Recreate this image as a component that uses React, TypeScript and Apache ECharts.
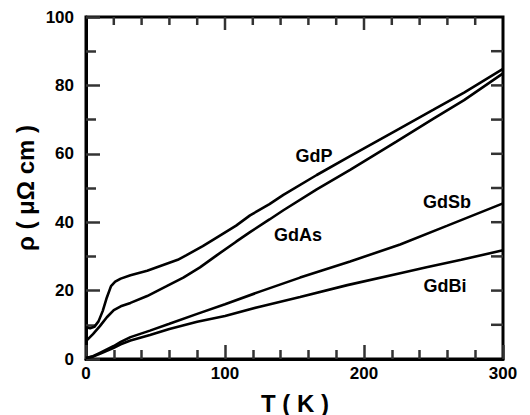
import React, { useEffect, useRef } from "react";
import * as echarts from "echarts";

// Temperature (K) and resistivity (µΩ cm) for each compound
const gdpT = [0, 3, 6, 9, 12, 15, 18, 21, 25, 32, 44, 55, 66, 72, 84, 94, 108, 118, 132, 142, 166, 190, 223, 250, 272, 300];
const gdpR = [9.3, 9.0, 9.4, 11.0, 14.0, 18.0, 21.3, 22.6, 23.5, 24.5, 25.8, 27.4, 29.0, 30.3, 33.0, 35.5, 39.0, 42.0, 45.3, 48.0, 53.8, 59.3, 66.8, 72.9, 77.9, 84.8];

const gdasT = [0, 5, 10, 15, 20, 25, 32, 44, 58, 70, 82, 94, 108, 118, 132, 142, 166, 190, 223, 250, 272, 300];
const gdasR = [5.2, 7.3, 9.6, 12.2, 14.3, 15.4, 16.4, 18.4, 21.3, 23.8, 26.8, 30.3, 34.3, 37.1, 40.8, 43.5, 49.6, 55.3, 63.5, 70.3, 75.7, 83.5];

const gdsbT = [0, 5, 10, 15, 20, 25, 32, 46, 60, 80, 100, 125, 154, 190, 226, 260, 300];
const gdsbR = [0.3, 0.8, 1.8, 2.8, 3.8, 5.0, 6.4, 8.3, 10.3, 13.2, 16.0, 19.7, 23.8, 28.5, 33.5, 39.0, 45.5];

const gdbiT = [0, 5, 10, 15, 20, 25, 32, 46, 60, 80, 100, 125, 154, 188, 226, 245, 270, 300];
const gdbiR = [0.3, 0.7, 1.5, 2.4, 3.3, 4.3, 5.4, 7.0, 8.8, 10.9, 12.6, 15.3, 18.1, 21.6, 25.1, 26.8, 29.0, 31.8];

const curveNames = ["GdP", "GdAs", "GdSb", "GdBi"];

// Tick values (top and right mirrored ticks)
const xMajorTicks = [100, 200];
const xMinorTicks = [20, 40, 60, 80, 120, 140, 160, 180, 220, 240, 260, 280];
const yRightTicks = [10, 20, 30, 40, 50, 60, 70, 80, 90];

const X_MIN = 0, X_MAX = 300, Y_MIN = 0, Y_MAX = 100;
const FONT = "'Liberation Sans', Arial, sans-serif";
const TICK_COLOR = "#333333";

function pairs(t: number[], r: number[]) {
  return t.map((v, i) => [v, r[i]]);
}

export default function App() {
  const ref = useRef<HTMLDivElement>(null);
  useEffect(() => {
    if (!ref.current) return;
    const chart = echarts.init(ref.current, undefined, { renderer: "svg" });

    const lineSeries = (name: string, data: number[][]) => ({
      name,
      type: "line",
      data,
      showSymbol: false,
      smooth: false,
      lineStyle: { color: "#000", width: 2.6 },
    });

    const topTicks = (vals: number[], len: number) => ({
      type: "custom",
      coordinateSystem: "cartesian2d",
      silent: true,
      clip: false,
      data: vals.map((v) => [v, Y_MAX]),
      encode: { x: 0, y: 1 },
      renderItem: (_p: any, api: any) => {
        const t = api.coord([api.value(0), Y_MAX]);
        return {
          type: "line",
          shape: { x1: t[0], y1: t[1], x2: t[0], y2: t[1] + len },
          style: { stroke: TICK_COLOR, lineWidth: 2.5 },
        };
      },
    });

    const rightTicks = (vals: number[], len: number) => ({
      type: "custom",
      coordinateSystem: "cartesian2d",
      silent: true,
      clip: false,
      data: vals.map((v) => [X_MAX, v]),
      encode: { x: 0, y: 1 },
      renderItem: (_p: any, api: any) => {
        const r = api.coord([X_MAX, api.value(1)]);
        return {
          type: "line",
          shape: { x1: r[0], y1: r[1], x2: r[0] - len, y2: r[1] },
          style: { stroke: TICK_COLOR, lineWidth: 2.5 },
        };
      },
    });

    const option: any = {
      animation: false,
      grid: { left: 86, right: 27, top: 17, bottom: 56, show: true, borderColor: "#000", borderWidth: 3, backgroundColor: "transparent" },
      xAxis: {
        type: "value",
        min: X_MIN,
        max: X_MAX,
        interval: 100,
        axisLine: { show: true, onZero: false, lineStyle: { color: "#000", width: 3 } },
        axisTick: { show: true, inside: true, length: 14, lineStyle: { color: TICK_COLOR, width: 2.5 } },
        minorTick: { show: true, splitNumber: 5, length: 9, lineStyle: { color: TICK_COLOR, width: 2.5 } },
        axisLabel: { fontFamily: FONT, fontWeight: "bold", fontSize: 17, color: "#000", margin: 6 },
        splitLine: { show: false },
      },
      yAxis: {
        type: "value",
        min: Y_MIN,
        max: Y_MAX,
        interval: 20,
        axisLine: { show: true, onZero: false, lineStyle: { color: "#000", width: 3 } },
        axisTick: { show: true, inside: true, length: 14, lineStyle: { color: TICK_COLOR, width: 2.5 } },
        minorTick: { show: true, splitNumber: 2, length: 10, lineStyle: { color: TICK_COLOR, width: 2.5 } },
        axisLabel: { fontFamily: FONT, fontWeight: "bold", fontSize: 17, color: "#000", margin: 12 },
        splitLine: { show: false },
      },
      series: [
        lineSeries(curveNames[0], pairs(gdpT, gdpR)),
        lineSeries(curveNames[1], pairs(gdasT, gdasR)),
        lineSeries(curveNames[2], pairs(gdsbT, gdsbR)),
        lineSeries(curveNames[3], pairs(gdbiT, gdbiR)),
        topTicks(xMajorTicks, 13),
        topTicks(xMinorTicks, 8),
        rightTicks(yRightTicks, 12),
      ],
      graphic: [
        { type: "text", x: 314, y: 156, style: { text: curveNames[0], font: `bold 18px ${FONT}`, fill: "#000", align: "center", verticalAlign: "middle" } },
        { type: "text", x: 298, y: 235, style: { text: curveNames[1], font: `bold 18px ${FONT}`, fill: "#000", align: "center", verticalAlign: "middle" } },
        { type: "text", x: 447, y: 202, style: { text: curveNames[2], font: `bold 18px ${FONT}`, fill: "#000", align: "center", verticalAlign: "middle" } },
        { type: "text", x: 445, y: 286, style: { text: curveNames[3], font: `bold 18px ${FONT}`, fill: "#000", align: "center", verticalAlign: "middle" } },
        { type: "text", x: 295, y: 403, style: { text: "T ( K )", font: `bold 24px ${FONT}`, fill: "#000", align: "center", verticalAlign: "middle" } },
        { type: "text", x: 25, y: 188, rotation: Math.PI / 2, style: { text: "ρ ( μΩ cm )", font: `bold 24px ${FONT}`, fill: "#000", align: "center", verticalAlign: "middle" } },
      ],
    };
    chart.setOption(option);
    return () => chart.dispose();
  }, []);
  return (
    <div
      ref={ref}
      style={{ position: "absolute", left: 0, top: 0, width: 530, height: 415, background: "#fff" }}
    />
  );
}
